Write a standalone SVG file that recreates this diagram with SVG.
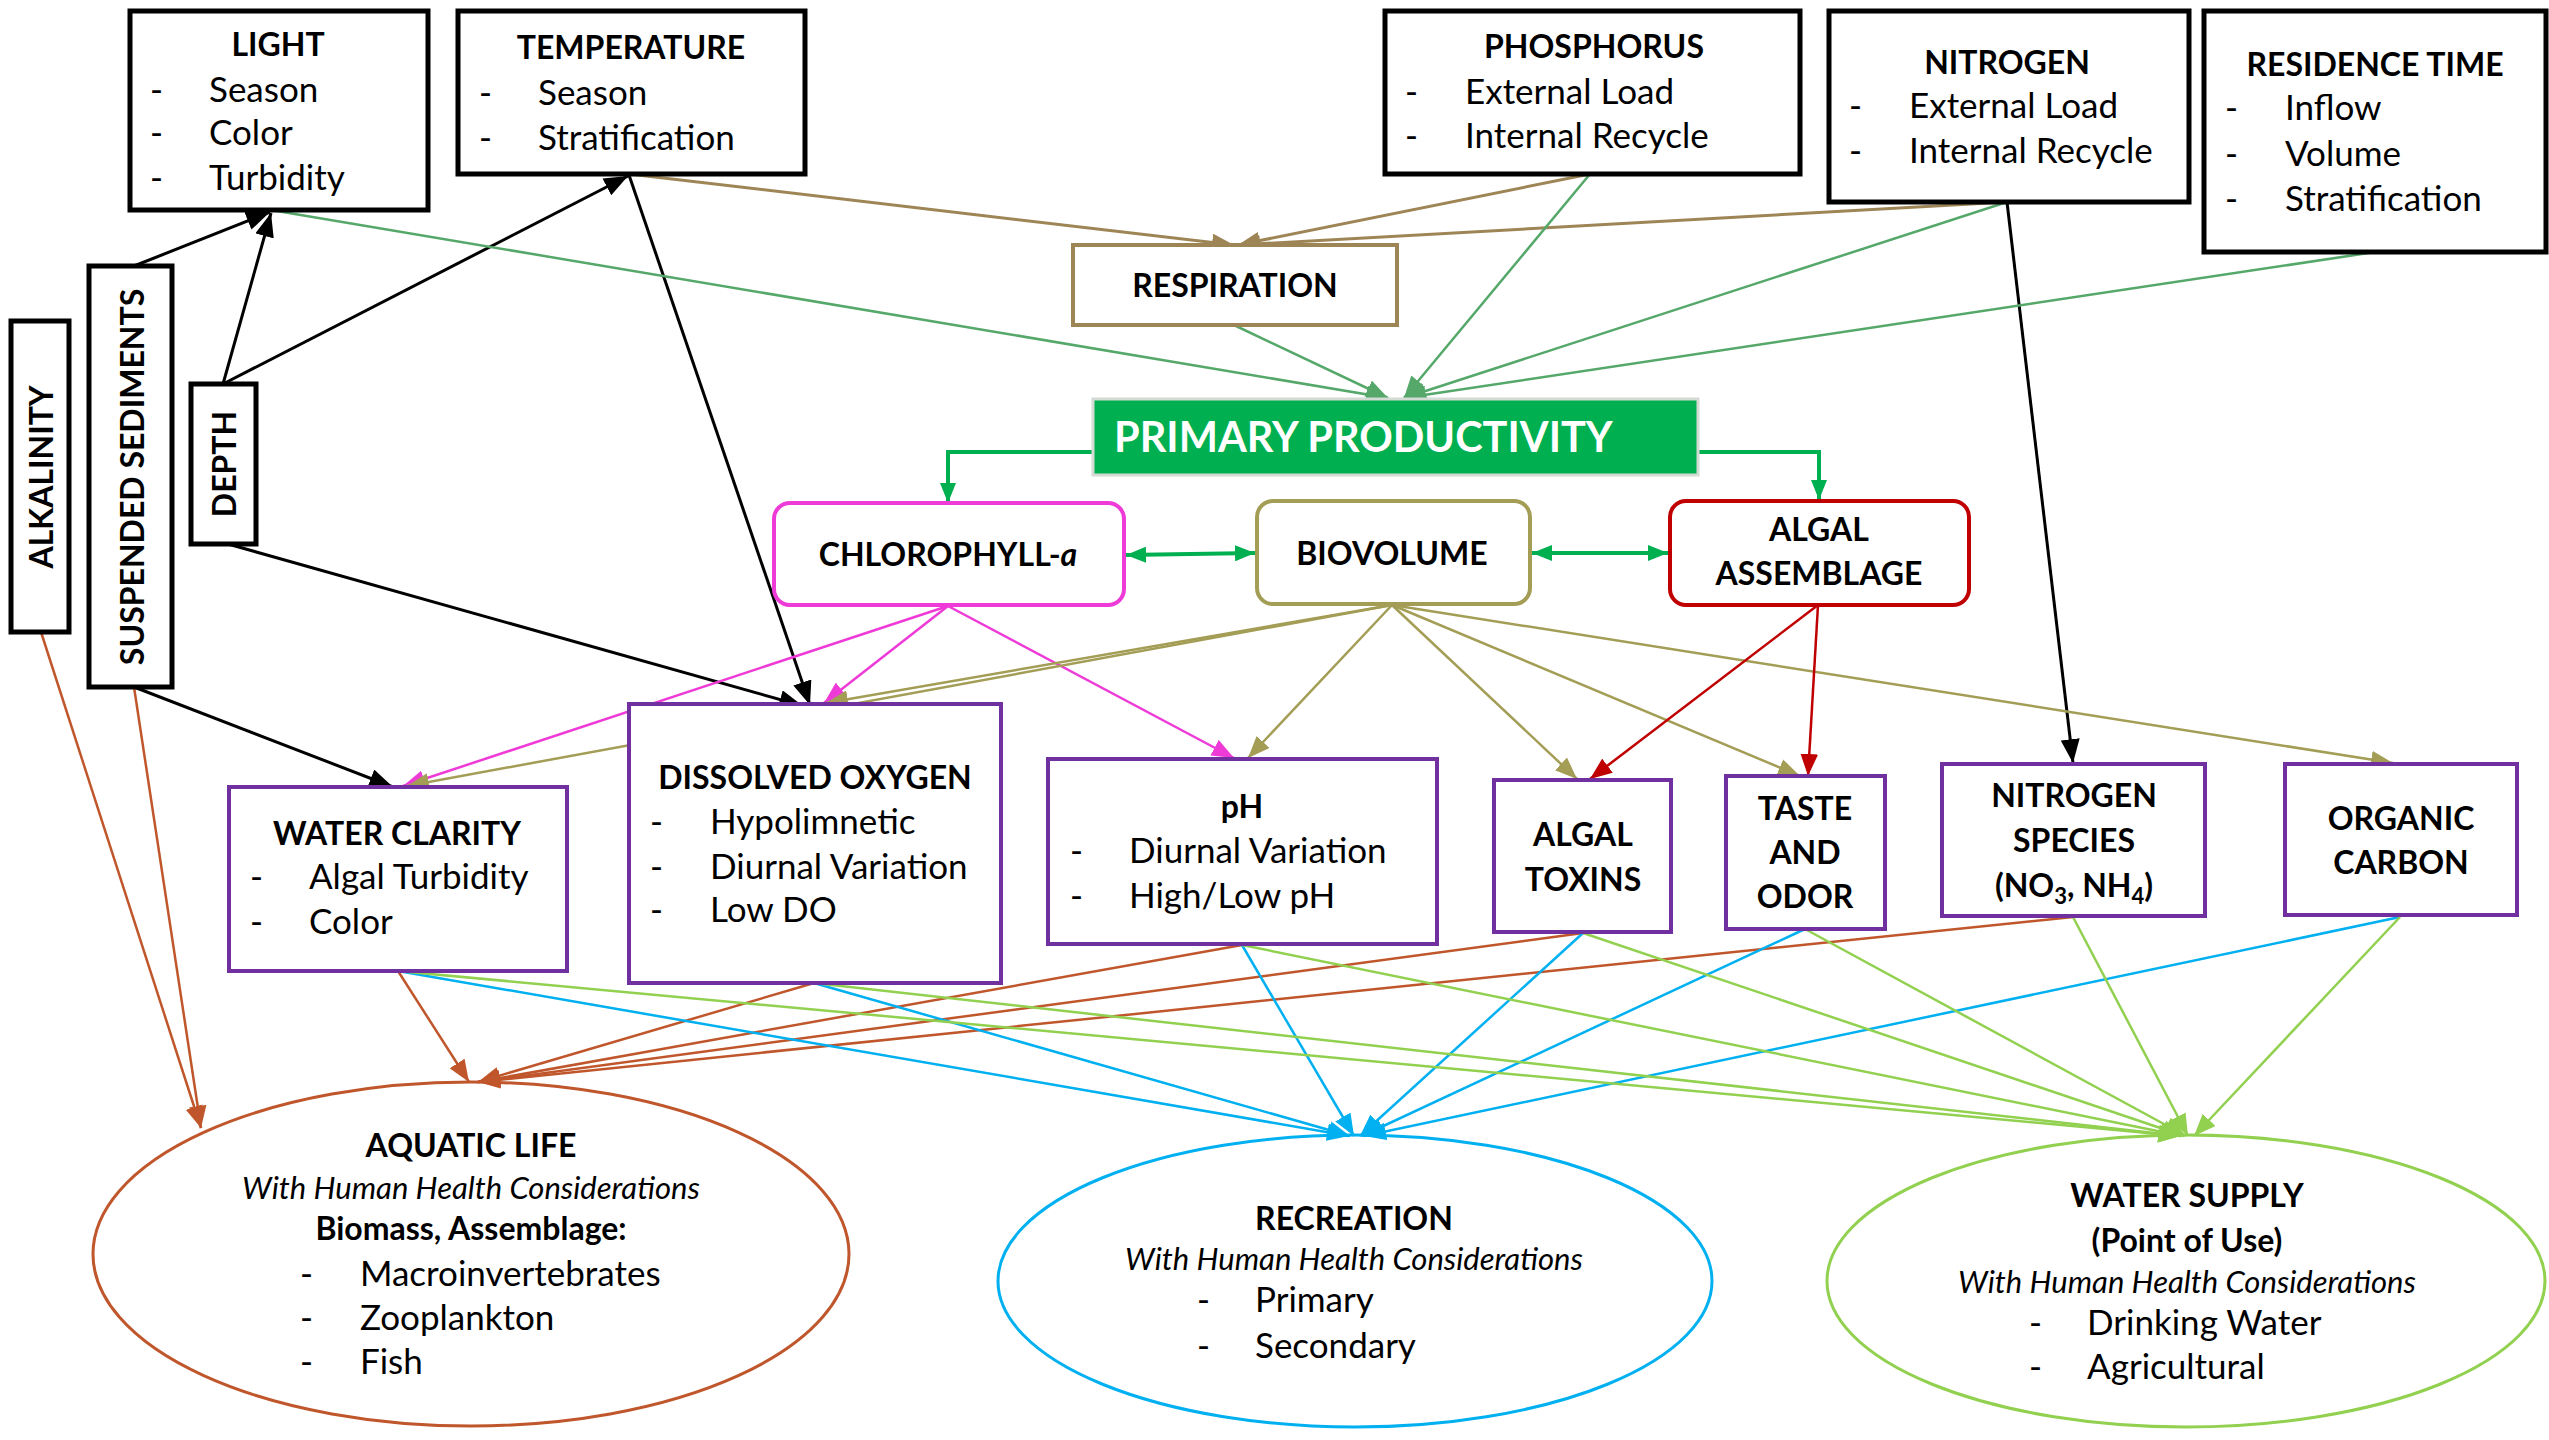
<svg xmlns="http://www.w3.org/2000/svg" width="2549" height="1440" viewBox="0 0 2549 1440">
<style>
.t{font-family:Lato,"Liberation Sans",sans-serif;font-size:35px;fill:#000}
.b{font-weight:bold;font-size:32px}
.m{text-anchor:middle}
.i{font-style:italic;font-size:31px}
.bx{fill:#fff;stroke:#000;stroke-width:5}
.pu{fill:#fff;stroke:#7030A0;stroke-width:4}
.ln{fill:none;stroke-width:2.5}
.k{stroke:#000;stroke-width:3;marker-end:url(#ak)}
.tan{stroke:#9E8556;stroke-width:3;marker-end:url(#atan)}
.g{stroke:#55A86A;marker-end:url(#ag)}
.mg{stroke:#EE3BD8;marker-end:url(#amg)}
.ol{stroke:#A39D55;marker-end:url(#aol)}
.rd{stroke:#C00000;marker-end:url(#ard)}
.br{stroke:#C0562B;marker-end:url(#abr)}
.bl{stroke:#00B0F0;marker-end:url(#abl)}
.lg{stroke:#92D050;marker-end:url(#alg)}
.pp{fill:none;stroke:#00B050;stroke-width:4}
</style>
<defs>
<marker id="ak" viewBox="0 0 20 16" refX="20" refY="8" markerWidth="24" markerHeight="19" markerUnits="userSpaceOnUse" orient="auto"><path d="M0,0L20,8L0,16z" fill="#000"/></marker>
<marker id="atan" viewBox="0 0 20 16" refX="20" refY="8" markerWidth="22" markerHeight="18" markerUnits="userSpaceOnUse" orient="auto"><path d="M0,0L20,8L0,16z" fill="#9E8556"/></marker>
<marker id="ag" viewBox="0 0 20 16" refX="20" refY="8" markerWidth="22" markerHeight="18" markerUnits="userSpaceOnUse" orient="auto"><path d="M0,0L20,8L0,16z" fill="#55A86A"/></marker>
<marker id="amg" viewBox="0 0 20 16" refX="20" refY="8" markerWidth="22" markerHeight="18" markerUnits="userSpaceOnUse" orient="auto"><path d="M0,0L20,8L0,16z" fill="#EE3BD8"/></marker>
<marker id="aol" viewBox="0 0 20 16" refX="20" refY="8" markerWidth="22" markerHeight="18" markerUnits="userSpaceOnUse" orient="auto"><path d="M0,0L20,8L0,16z" fill="#A39D55"/></marker>
<marker id="ard" viewBox="0 0 20 16" refX="20" refY="8" markerWidth="22" markerHeight="18" markerUnits="userSpaceOnUse" orient="auto"><path d="M0,0L20,8L0,16z" fill="#C00000"/></marker>
<marker id="abr" viewBox="0 0 20 16" refX="20" refY="8" markerWidth="22" markerHeight="18" markerUnits="userSpaceOnUse" orient="auto"><path d="M0,0L20,8L0,16z" fill="#C0562B"/></marker>
<marker id="abl" viewBox="0 0 20 16" refX="20" refY="8" markerWidth="22" markerHeight="18" markerUnits="userSpaceOnUse" orient="auto"><path d="M0,0L20,8L0,16z" fill="#00B0F0"/></marker>
<marker id="alg" viewBox="0 0 20 16" refX="20" refY="8" markerWidth="22" markerHeight="18" markerUnits="userSpaceOnUse" orient="auto"><path d="M0,0L20,8L0,16z" fill="#92D050"/></marker>
<marker id="app" viewBox="0 0 20 16" refX="20" refY="8" markerWidth="20" markerHeight="16" markerUnits="userSpaceOnUse" orient="auto-start-reverse"><path d="M0,0L20,8L0,16z" fill="#00B050"/></marker>
</defs>
<rect width="2549" height="1440" fill="#fff"/>

<g id="connectors" class="ln">
<path class="k" d="M134,266L270,212"/>
<path class="k" d="M223,384L271,213"/>
<path class="k" d="M223,384L628,176"/>
<path class="k" d="M629,175L810,705"/>
<path class="k" d="M228,544L803,706"/>
<path class="k" d="M134,687L393,787"/>
<path class="k" d="M2007,202L2073,763"/>
<path class="tan" d="M629,174L1234,245"/>
<path class="tan" d="M1590,174L1238,245"/>
<path class="tan" d="M2007,202L1238,245"/>
<path class="g" d="M271,210L1388,398"/>
<path class="g" d="M1236,326L1388,398"/>
<path class="g" d="M1590,174L1404,398"/>
<path class="g" d="M2007,202L1404,398"/>
<path class="g" d="M2375,252L1404,398"/>
<path class="pp" d="M1093,452H948V503" marker-end="url(#app)"/>
<path class="pp" d="M1697,452H1819V500" marker-end="url(#app)"/>
<path class="pp" d="M1126,555L1255,553" marker-start="url(#app)" marker-end="url(#app)"/>
<path class="pp" d="M1532,553L1668,553" marker-start="url(#app)" marker-end="url(#app)"/>
<path class="mg" d="M948,606L403,786"/>
<path class="mg" d="M948,606L824,703"/>
<path class="mg" d="M948,606L1234,758"/>
<path class="ol" d="M1392,605L407,786"/>
<path class="ol" d="M1392,605L826,703"/>
<path class="ol" d="M1392,605L1248,758"/>
<path class="ol" d="M1392,605L1577,779"/>
<path class="ol" d="M1392,605L1800,776"/>
<path class="ol" d="M1392,605L2393,763"/>
<path class="rd" d="M1818,605L1590,779"/>
<path class="rd" d="M1818,605L1808,776"/>
<path class="br" d="M41,632L201,1128"/>
<path class="br" d="M134,687L201,1128"/>
<path class="br" d="M398,971L469,1082"/>
<path class="br" d="M814,983L478,1082"/>
<path class="br" d="M1242,945L478,1082"/>
<path class="br" d="M1583,933L478,1082"/>
<path class="br" d="M2073,917L478,1082"/>
<path class="bl" d="M398,971L1349,1136"/>
<path class="bl" d="M814,983L1350,1136"/>
<path class="bl" d="M1242,945L1354,1136"/>
<path class="bl" d="M1583,933L1360,1136"/>
<path class="bl" d="M1805,929L1362,1136"/>
<path class="bl" d="M2400,917L1364,1136"/>
<path class="lg" d="M398,971L2180,1136"/>
<path class="lg" d="M814,983L2181,1136"/>
<path class="lg" d="M1242,945L2182,1136"/>
<path class="lg" d="M1583,933L2184,1136"/>
<path class="lg" d="M1805,929L2186,1136"/>
<path class="lg" d="M2073,917L2188,1136"/>
<path class="lg" d="M2400,917L2194,1136"/>
</g>

<g id="light">
<rect class="bx" x="130" y="11" width="298" height="199"/>
<text class="t b m" x="278" y="56">LIGHT</text>
<text class="t" x="150" y="102">-</text><text class="t" x="209" y="102">Season</text>
<text class="t" x="150" y="145">-</text><text class="t" x="209" y="145">Color</text>
<text class="t" x="150" y="190">-</text><text class="t" x="209" y="190">Turbidity</text>
</g>
<g id="temperature">
<rect class="bx" x="458" y="11" width="347" height="163"/>
<text class="t b m" x="631" y="59">TEMPERATURE</text>
<text class="t" x="479" y="105">-</text><text class="t" x="538" y="105">Season</text>
<text class="t" x="479" y="150">-</text><text class="t" x="538" y="150">Stratification</text>
</g>
<g id="phosphorus">
<rect class="bx" x="1385" y="11" width="415" height="163"/>
<text class="t b m" x="1594" y="58">PHOSPHORUS</text>
<text class="t" x="1405" y="104">-</text><text class="t" x="1465" y="104">External Load</text>
<text class="t" x="1405" y="148">-</text><text class="t" x="1465" y="148">Internal Recycle</text>
</g>
<g id="nitrogen">
<rect class="bx" x="1829" y="11" width="360" height="191"/>
<text class="t b m" x="2007" y="74">NITROGEN</text>
<text class="t" x="1849" y="118">-</text><text class="t" x="1909" y="118">External Load</text>
<text class="t" x="1849" y="163">-</text><text class="t" x="1909" y="163">Internal Recycle</text>
</g>
<g id="residence-time">
<rect class="bx" x="2204" y="11" width="342" height="241"/>
<text class="t b m" x="2375" y="76">RESIDENCE TIME</text>
<text class="t" x="2225" y="120">-</text><text class="t" x="2285" y="120">Inflow</text>
<text class="t" x="2225" y="166">-</text><text class="t" x="2285" y="166">Volume</text>
<text class="t" x="2225" y="211">-</text><text class="t" x="2285" y="211">Stratification</text>
</g>
<g id="alkalinity">
<rect class="bx" x="11" y="321" width="58" height="311"/>
<text class="t b m" transform="translate(53,477) rotate(-90)">ALKALINITY</text>
</g>
<g id="suspended-sediments">
<rect class="bx" x="89" y="266" width="83" height="421"/>
<text class="t b m" transform="translate(144,477) rotate(-90)">SUSPENDED SEDIMENTS</text>
</g>
<g id="depth">
<rect class="bx" x="191" y="384" width="65" height="160"/>
<text class="t b m" transform="translate(236,464) rotate(-90)">DEPTH</text>
</g>
<g id="respiration">
<rect x="1073" y="245" width="324" height="80" fill="#fff" stroke="#9E8556" stroke-width="4"/>
<text class="t b m" x="1235" y="297">RESPIRATION</text>
</g>
<g id="primary-productivity">
<rect x="1093" y="399" width="605" height="76" fill="#00B050" stroke="#D4DAD4" stroke-width="3"/>
<text class="t b" x="1114" y="452" style="font-size:41.5px;fill:#fff">PRIMARY PRODUCTIVITY</text>
</g>
<g id="chlorophyll">
<rect x="774" y="503" width="350" height="102" rx="16" fill="#fff" stroke="#EE3BD8" stroke-width="4"/>
<text class="t b m" x="948" y="566">CHLOROPHYLL-<tspan font-style="italic">a</tspan></text>
</g>
<g id="biovolume">
<rect x="1257" y="501" width="273" height="103" rx="16" fill="#fff" stroke="#A39D55" stroke-width="4"/>
<text class="t b m" x="1392" y="565">BIOVOLUME</text>
</g>
<g id="algal-assemblage">
<rect x="1670" y="501" width="299" height="104" rx="16" fill="#fff" stroke="#C00000" stroke-width="4"/>
<text class="t b m" x="1819" y="541">ALGAL</text>
<text class="t b m" x="1819" y="585">ASSEMBLAGE</text>
</g>
<g id="water-clarity">
<rect class="pu" x="229" y="787" width="338" height="184"/>
<text class="t b m" x="397" y="845">WATER CLARITY</text>
<text class="t" x="250" y="889">-</text><text class="t" x="309" y="889">Algal Turbidity</text>
<text class="t" x="250" y="934">-</text><text class="t" x="309" y="934">Color</text>
</g>
<g id="dissolved-oxygen">
<rect class="pu" x="629" y="704" width="372" height="279"/>
<text class="t b m" x="815" y="789">DISSOLVED OXYGEN</text>
<text class="t" x="650" y="834">-</text><text class="t" x="710" y="834">Hypolimnetic</text>
<text class="t" x="650" y="879">-</text><text class="t" x="710" y="879">Diurnal Variation</text>
<text class="t" x="650" y="922">-</text><text class="t" x="710" y="922">Low DO</text>
</g>
<g id="ph">
<rect class="pu" x="1048" y="759" width="389" height="185"/>
<text class="t b m" x="1242" y="818">pH</text>
<text class="t" x="1070" y="863">-</text><text class="t" x="1129" y="863">Diurnal Variation</text>
<text class="t" x="1070" y="908">-</text><text class="t" x="1129" y="908">High/Low pH</text>
</g>
<g id="algal-toxins">
<rect class="pu" x="1494" y="780" width="177" height="152"/>
<text class="t b m" x="1583" y="846">ALGAL</text>
<text class="t b m" x="1583" y="891">TOXINS</text>
</g>
<g id="taste-and-odor">
<rect class="pu" x="1726" y="776" width="159" height="153"/>
<text class="t b m" x="1805" y="820">TASTE</text>
<text class="t b m" x="1805" y="864">AND</text>
<text class="t b m" x="1805" y="908">ODOR</text>
</g>
<g id="nitrogen-species">
<rect class="pu" x="1942" y="764" width="263" height="152"/>
<text class="t b m" x="2074" y="807">NITROGEN</text>
<text class="t b m" x="2074" y="852">SPECIES</text>
<text class="t b m" x="2074" y="897">(NO<tspan font-size="22" dy="7">3</tspan><tspan dy="-7">, NH</tspan><tspan font-size="22" dy="7">4</tspan><tspan dy="-7">)</tspan></text>
</g>
<g id="organic-carbon">
<rect class="pu" x="2285" y="764" width="232" height="151"/>
<text class="t b m" x="2401" y="830">ORGANIC</text>
<text class="t b m" x="2401" y="874">CARBON</text>
</g>
<g id="aquatic-life">
<ellipse cx="471" cy="1254" rx="378" ry="172" fill="none" stroke="#C0562B" stroke-width="3"/>
<text class="t b m" x="471" y="1157">AQUATIC LIFE</text>
<text class="t i m" x="471" y="1199">With Human Health Considerations</text>
<text class="t b m" x="471" y="1240">Biomass, Assemblage:</text>
<text class="t" x="300" y="1286">-</text><text class="t" x="360" y="1286">Macroinvertebrates</text>
<text class="t" x="300" y="1330">-</text><text class="t" x="360" y="1330">Zooplankton</text>
<text class="t" x="300" y="1374">-</text><text class="t" x="360" y="1374">Fish</text>
</g>
<g id="recreation">
<ellipse cx="1355" cy="1281" rx="357" ry="146" fill="none" stroke="#00B0F0" stroke-width="3"/>
<text class="t b m" x="1354" y="1230">RECREATION</text>
<text class="t i m" x="1354" y="1270">With Human Health Considerations</text>
<text class="t" x="1197" y="1312">-</text><text class="t" x="1255" y="1312">Primary</text>
<text class="t" x="1197" y="1358">-</text><text class="t" x="1255" y="1358">Secondary</text>
</g>
<g id="water-supply">
<ellipse cx="2186" cy="1281" rx="359" ry="146" fill="none" stroke="#92D050" stroke-width="3"/>
<text class="t b m" x="2187" y="1207">WATER SUPPLY</text>
<text class="t b m" x="2187" y="1252">(Point of Use)</text>
<text class="t i m" x="2187" y="1293">With Human Health Considerations</text>
<text class="t" x="2029" y="1335">-</text><text class="t" x="2087" y="1335">Drinking Water</text>
<text class="t" x="2029" y="1379">-</text><text class="t" x="2087" y="1379">Agricultural</text>
</g>
</svg>
